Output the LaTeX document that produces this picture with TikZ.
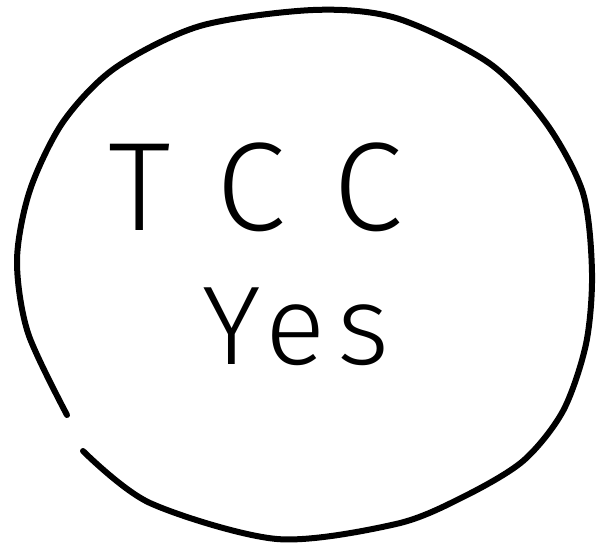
\documentclass[tikz,border=0pt]{standalone}
\usepackage{fontspec}
\usepackage{xcolor}
\usepackage{tikz}
\usetikzlibrary{positioning}
\newfontfamily\handfont[LetterSpace=40]{Fira Sans Light}
\newfontfamily\handfontb[LetterSpace=10]{Fira Sans Light}
\definecolor{inkBlack}{HTML}{000000}

\begin{document}
\begin{tikzpicture}[x=1pt, y=-1pt]
  \useasboundingbox (0,0) rectangle (596,544);
  \draw[inkBlack, line width=6pt, line cap=round] plot[smooth] coordinates {(83,451) (150,503) (277,539) (396,524) (463,497) (523,461) (563,411) (586,344) (592,273) (583,193) (546,123) (489,63) (396,18) (313,10) (200,26) (115,68) (63,122) (30,190) (17,260) (28,333) (67,415)};
  \node[anchor=base west, inner sep=0pt, text=inkBlack, font=\handfont\fontsize{126}{126}\selectfont] (tcc) at (108,230) {TCC};
  \node[anchor=base west, inner sep=0pt, text=inkBlack, font=\handfontb\fontsize{112}{112}\selectfont] (yes) at (202,364) {Yes};
\end{tikzpicture}
\end{document}
